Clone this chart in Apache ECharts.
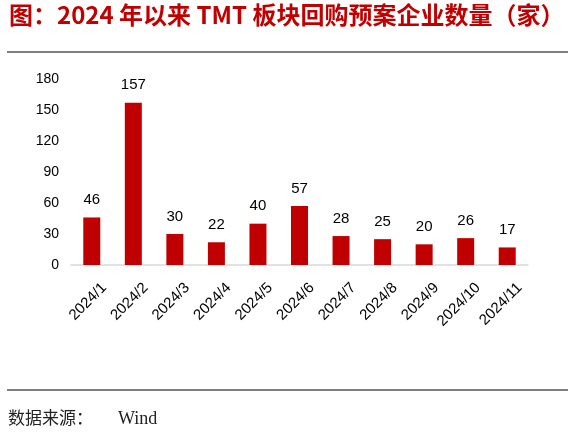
<!DOCTYPE html>
<html style="height: 100%">
<head>
<meta charset="utf-8">
</head>
<body style="height: 100%; margin: 0; background: #fff">
<div id="container" style="width: 576px; height: 441px"></div>
<script type="text/javascript" src="https://cdn.jsdelivr.net/npm/echarts@6/dist/echarts.min.js"></script>
<script type="text/javascript">
var months = ['2024/1', '2024/2', '2024/3', '2024/4', '2024/5', '2024/6', '2024/7', '2024/8', '2024/9', '2024/10', '2024/11'];
var counts = [46, 157, 30, 22, 40, 57, 28, 25, 20, 26, 17];
var yTicks = [0, 30, 60, 90, 120, 150, 180];

var myChart = echarts.init(document.getElementById('container'));

var option = {
    animation: false,
    backgroundColor: '#fff',
    textStyle: { fontFamily: 'Liberation Sans, Noto Sans CJK SC' },
    graphic: [
        {
            type: 'text', left: 9, top: 3,
            style: {
                text: '图：2024 年以来 TMT 板块回购预案企业数量（家）',
                fill: '#c00000',
                font: 'bold 24px "Noto Sans CJK SC"'
            }
        },
        { type: 'line', shape: { x1: 7, y1: 52, x2: 568, y2: 52 }, style: { stroke: '#000', lineWidth: 1.2 } },
        { type: 'line', shape: { x1: 7, y1: 390, x2: 568, y2: 390 }, style: { stroke: '#000', lineWidth: 1.2 } },
        {
            type: 'text', left: 8, top: 409,
            style: {
                text: '数据来源：',
                fill: '#222',
                font: '17px "Noto Sans CJK SC"'
            }
        },
        {
            type: 'text', left: 118, top: 410,
            style: {
                text: 'Wind',
                fill: '#222',
                font: '18px "Liberation Serif"'
            }
        }
    ],
    grid: { left: 71, right: 48, top: 79, bottom: 176 },
    xAxis: {
        type: 'category',
        data: months,
        axisLine: { lineStyle: { color: '#d9d9d9', width: 1.5 } },
        axisTick: { show: false },
        axisLabel: {
            rotate: 45, color: '#000', fontSize: 15, interval: 0,
            margin: 8, verticalAlign: 'top', padding: [10, 0, 0, 0]
        }
    },
    yAxis: {
        type: 'value',
        min: yTicks[0],
        max: yTicks[yTicks.length - 1],
        interval: 30,
        axisLine: { show: false },
        axisTick: { show: false },
        splitLine: { show: false },
        axisLabel: { color: '#000', fontSize: 14, margin: 12 }
    },
    series: [{
        type: 'bar',
        data: counts,
        barWidth: 17,
        itemStyle: { color: '#c00000' },
        label: { show: true, position: 'top', distance: 10, color: '#000', fontSize: 15 }
    }]
};

myChart.setOption(option);
</script>
</body>
</html>
